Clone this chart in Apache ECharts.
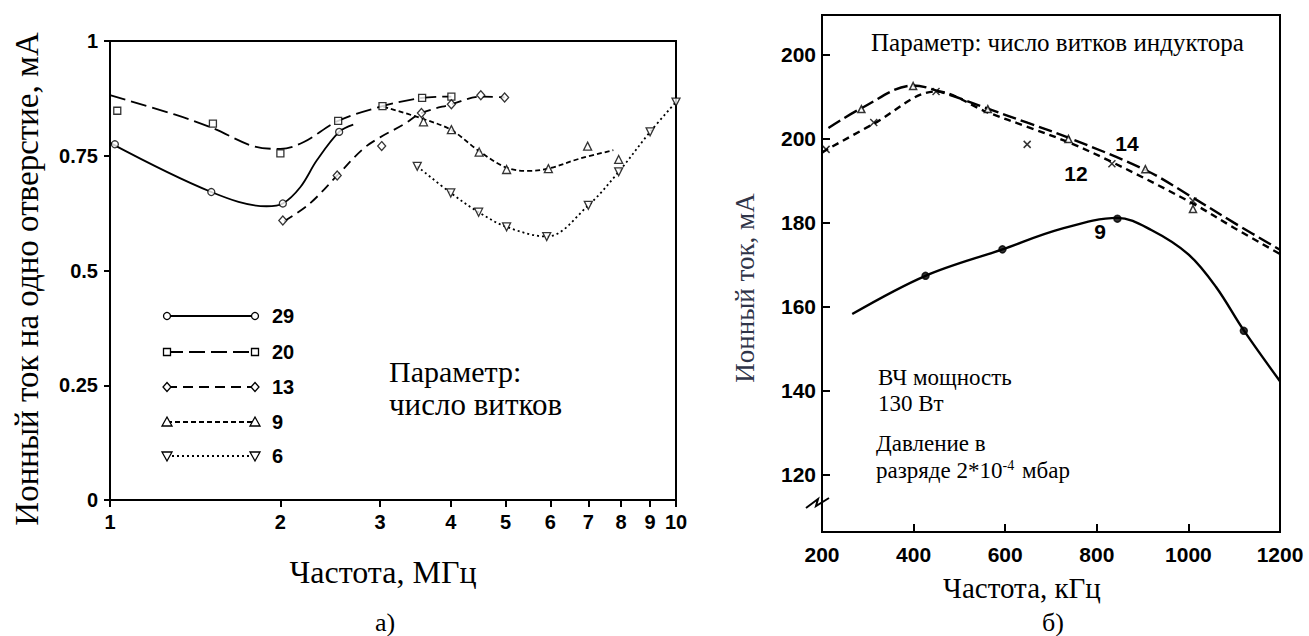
<!DOCTYPE html>
<html><head><meta charset="utf-8">
<script src="https://cdn.jsdelivr.net/npm/echarts@6/dist/echarts.min.js"></script>
<style>html,body{margin:0;padding:0;background:#fff}#c{width:1309px;height:636px}</style>
</head><body><div id="c"></div>
<script>
// ---------- Panel а) : ion current per hole vs frequency (MHz, log) ----------
const aXTicks = [1, 2, 3, 4, 5, 6, 7, 8, 9, 10];
const aYTickLabels = ['0', '0.25', '0.5', '0.75', '1'];
const aNames = ['29', '20', '13', '9', '6'];
const a29Pts = [[1.02, 0.775], [1.51, 0.671], [2.02, 0.646], [2.54, 0.802]];
const a29Curve = [[1.0, 0.778], [1.51, 0.671], [1.89, 0.640], [2.02, 0.646], [2.17, 0.682], [2.32, 0.740], [2.54, 0.802], [2.69, 0.818]];
const a20Pts = [[1.03, 0.848], [1.52, 0.820], [2.0, 0.755], [2.53, 0.826], [3.03, 0.858], [3.56, 0.876], [4.01, 0.879]];
const a20Curve = [[1.0, 0.882], [1.3, 0.840], [1.52, 0.810], [1.79, 0.771], [2.0, 0.765], [2.2, 0.780], [2.53, 0.826], [3.03, 0.858], [3.56, 0.876], [4.01, 0.879]];
const a13Pts = [[2.02, 0.609], [2.52, 0.707], [3.02, 0.771], [3.55, 0.843], [4.01, 0.862], [4.52, 0.882], [4.98, 0.877]];
const a13Curve = [[2.03, 0.607], [2.25, 0.645], [2.52, 0.707], [2.8, 0.765], [3.0, 0.790], [3.3, 0.818], [3.55, 0.843], [4.01, 0.862], [4.52, 0.879], [4.98, 0.877]];
const a9Pts = [[3.58, 0.824], [4.01, 0.807], [4.49, 0.758], [5.02, 0.720], [5.95, 0.722], [6.98, 0.771], [7.92, 0.742]];
const a9Curve = [[3.04, 0.857], [3.58, 0.830], [4.01, 0.806], [4.49, 0.760], [5.02, 0.724], [5.5, 0.717], [5.95, 0.722], [6.77, 0.744], [7.75, 0.762]];
const a6Pts = [[3.49, 0.727], [4.0, 0.669], [4.48, 0.627], [5.02, 0.595], [5.91, 0.574], [7.0, 0.642], [7.92, 0.715], [9.0, 0.802], [10.0, 0.867]];
const a6Curve = [[3.49, 0.727], [4.0, 0.669], [4.48, 0.627], [5.02, 0.595], [5.91, 0.574], [7.0, 0.642], [7.92, 0.715], [9.0, 0.802], [10.0, 0.867]];

// ---------- Panel б) : ion current vs frequency (kHz) ----------
const bYTickValues = [120, 140, 160, 180, 200, 220];
const bYTickLabels = ['120', '140', '160', '180', '200', '200'];
const bNames = ['14', '12', '9'];
const b14Pts = [[286, 207.1], [399, 212.6], [562, 207.1], [738, 200.0], [906, 192.8], [1010, 183.3]];
const b14Curve = [[214, 202.6], [286, 207.3], [399, 212.7], [470, 210.8], [562, 207.2], [650, 203.8], [738, 200.3], [906, 192.6], [1010, 186.0], [1100, 180.0], [1200, 173.6]];
const b12Pts = [[209, 197.5], [313, 203.9], [449, 211.3], [648, 198.7], [833, 194.1], [1010, 185.2]];
const b12Curve = [[200, 196.8], [313, 203.6], [449, 211.3], [560, 206.4], [650, 202.8], [738, 199.2], [833, 194.5], [1010, 184.6], [1100, 178.8], [1200, 172.6]];
const b9Pts = [[426, 167.4], [594, 173.7], [845, 181.0], [1121, 154.3]];
const b9Curve = [[266, 158.3], [426, 167.4], [594, 173.7], [720, 178.5], [845, 181.2], [919, 178.3], [1000, 172.5], [1060, 164.8], [1121, 154.4], [1200, 142.3]];

const SERIF = '"Liberation Serif", "DejaVu Serif", serif';
const SANS = '"Liberation Sans", Arial, sans-serif';
const XPATH = 'path://M0,0L10,10M10,0L0,10';

const aStyles = [
  { name: aNames[0], pts: a29Pts, curve: a29Curve, dash: 'solid', symbol: 'circle', size: 7 },
  { name: aNames[1], pts: a20Pts, curve: a20Curve, dash: [16, 6], symbol: 'rect', size: 7 },
  { name: aNames[2], pts: a13Pts, curve: a13Curve, dash: [10, 6], symbol: 'diamond', size: [8, 9] },
  { name: aNames[3], pts: a9Pts, curve: a9Curve, dash: [5, 3], symbol: 'triangle', size: 8 },
  { name: aNames[4], pts: a6Pts, curve: a6Curve, dash: [2, 3], symbol: 'path://M0,0L10,0L5,9Z', size: 8 }
];
const bStyles = [
  { name: bNames[0], pts: b14Pts, curve: b14Curve, dash: [14, 5], symbol: 'triangle', size: 7, fill: '#fff' },
  { name: bNames[1], pts: b12Pts, curve: b12Curve, dash: [7, 5], symbol: XPATH, size: 7, fill: 'none' },
  { name: bNames[2], pts: b9Pts, curve: b9Curve, dash: 'solid', symbol: 'circle', size: 7, fill: '#000' }
];

const series = [];
aStyles.forEach(s => {
  series.push({ type: 'line', name: s.name, xAxisIndex: 0, yAxisIndex: 0, data: s.curve, smooth: 0.35,
    symbol: 'none', silent: true, z: 2, lineStyle: { color: '#000', width: 1.8, type: s.dash } });
  series.push({ type: 'scatter', name: s.name + ' pts', xAxisIndex: 0, yAxisIndex: 0, data: s.pts,
    symbol: s.symbol, symbolSize: s.size, z: 3,
    itemStyle: { color: '#fff', borderColor: '#000', borderWidth: 1.3 } });
});
bStyles.forEach(s => {
  series.push({ type: 'line', name: s.name, xAxisIndex: 1, yAxisIndex: 1, data: s.curve, smooth: 0.35,
    symbol: 'none', silent: true, z: 2, lineStyle: { color: '#000', width: 2.4, type: s.dash } });
  series.push({ type: 'scatter', name: s.name + ' pts', xAxisIndex: 1, yAxisIndex: 1, data: s.pts,
    symbol: s.symbol, symbolSize: s.size, z: 3,
    itemStyle: { color: s.fill, borderColor: '#000', borderWidth: 1.5 } });
});

// legend of panel а) drawn as graphics (line with markers at both ends)
const legY = [316, 352, 387, 422, 456];
const legX0 = 167, legX1 = 255;
function markerShape(kind, cx, cy) {
  const st = { fill: '#fff', stroke: '#000', lineWidth: 1.3 };
  if (kind === 0) return { type: 'circle', shape: { cx, cy, r: 3.5 }, style: st, z: 10 };
  if (kind === 1) return { type: 'rect', shape: { x: cx - 3.5, y: cy - 3.5, width: 7, height: 7 }, style: st, z: 10 };
  if (kind === 2) return { type: 'polygon', shape: { points: [[cx, cy - 4.5], [cx + 4, cy], [cx, cy + 4.5], [cx - 4, cy]] }, style: st, z: 10 };
  if (kind === 3) return { type: 'polygon', shape: { points: [[cx, cy - 5], [cx + 5, cy + 4], [cx - 5, cy + 4]] }, style: st, z: 10 };
  return { type: 'polygon', shape: { points: [[cx - 5, cy - 4], [cx + 5, cy - 4], [cx, cy + 5]] }, style: st, z: 10 };
}
const graphics = [];
aStyles.forEach((s, i) => {
  const y = legY[i];
  graphics.push({ type: 'line', shape: { x1: legX0, y1: y, x2: legX1, y2: y }, z: 9,
    style: { stroke: '#000', lineWidth: 1.8, lineDash: s.dash === 'solid' ? null : s.dash } });
  graphics.push(markerShape(i, legX0, y));
  graphics.push(markerShape(i, legX1, y));
  graphics.push({ type: 'text', x: 272, y: y, z: 10,
    style: { text: s.name, font: 'bold 20px ' + SANS, fill: '#000', textAlign: 'left', verticalAlign: 'middle' } });
});
function txt(t, x, y, font, align, extra) {
  return Object.assign({ type: 'text', x, y, z: 10,
    style: { text: t, font, fill: '#000', textAlign: align || 'left', verticalAlign: 'middle' } }, extra || {});
}
// panel а) texts
graphics.push(txt('Параметр:', 389, 371, '30px ' + SERIF));
graphics.push(txt('число витков', 389, 404, '31px ' + SERIF));
graphics.push(txt('Частота, МГц', 383, 572, '32px ' + SERIF, 'center'));
graphics.push(txt('а)', 385, 622, '26px ' + SERIF, 'center'));
graphics.push(txt('Ионный ток на одно отверстие, мА', 27, 279, '33px ' + SERIF, 'center', { rotation: Math.PI / 2 }));
// panel б) texts
graphics.push(txt('Параметр: число витков индуктора', 871, 42, '25px ' + SERIF));
graphics.push(txt('ВЧ мощность', 878, 377, '23px ' + SERIF));
graphics.push(txt('130 Вт', 878, 403, '23px ' + SERIF));
graphics.push(txt('Давление в', 876, 443, '23px ' + SERIF));
graphics.push({ type: 'text', x: 876, y: 470, z: 10,
  style: { text: 'разряде 2*10{sup|-4} мбар', font: '23px ' + SERIF, fill: '#000', textAlign: 'left', verticalAlign: 'middle',
    rich: { sup: { fontSize: 14, fontFamily: SERIF, verticalAlign: 'top', padding: [0, 2, 8, 0] } } } });
graphics.push(txt('Частота, кГц', 1022, 588, '29px ' + SERIF, 'center'));
graphics.push(txt('б)', 1053, 622, '26px ' + SERIF, 'center'));
graphics.push({ type: 'text', x: 745, y: 288, z: 10, rotation: Math.PI / 2,
  style: { text: 'Ионный ток, мА', font: '27px ' + SERIF, fill: '#2f3448', textAlign: 'center', verticalAlign: 'middle' } });
graphics.push(txt(bNames[0], 1127, 143, 'bold 21px ' + SANS, 'center'));
graphics.push(txt(bNames[1], 1076, 173, 'bold 21px ' + SANS, 'center'));
graphics.push(txt(bNames[2], 1100, 231, 'bold 21px ' + SANS, 'center'));
// axis break mark on panel б)
graphics.push({ type: 'polyline', z: 10, shape: { points: [[806, 508], [818, 499], [816, 506], [829, 498]] },
  style: { stroke: '#000', lineWidth: 2, fill: null } });

const chart = echarts.init(document.getElementById('c'), null, { renderer: 'svg' });
chart.setOption({
  animation: false,
  backgroundColor: '#fff',
  grid: [
    { left: 110, top: 41, width: 566, height: 459, show: true, borderColor: '#000', borderWidth: 2, backgroundColor: 'transparent' },
    { left: 822, top: 15, width: 458, height: 517, show: true, borderColor: '#000', borderWidth: 2, backgroundColor: 'transparent' }
  ],
  xAxis: [
    { type: 'log', logBase: 10, gridIndex: 0, min: 1, max: 10,
      axisLine: { lineStyle: { color: '#000', width: 2 } },
      axisTick: { show: true, length: 7, inside: false, lineStyle: { color: '#000', width: 2 }, customValues: aXTicks },
      axisLabel: { customValues: aXTicks, margin: 12, color: '#000', fontFamily: SANS, fontWeight: 'bold', fontSize: 20 },
      minorTick: { show: false }, splitLine: { show: false } },
    { type: 'value', gridIndex: 1, min: 200, max: 1200, interval: 200,
      axisLine: { lineStyle: { color: '#000', width: 2 } },
      axisTick: { show: true, inside: true, length: 8, lineStyle: { color: '#000', width: 2 } },
      axisLabel: { margin: 12, color: '#000', fontFamily: SANS, fontWeight: 'bold', fontSize: 21,
        formatter: (v) => String(v) },
      splitLine: { show: false } }
  ],
  yAxis: [
    { type: 'value', gridIndex: 0, min: 0, max: 1, interval: 0.25,
      axisLine: { lineStyle: { color: '#000', width: 2 } },
      axisTick: { show: true, length: 6, lineStyle: { color: '#000', width: 2 } },
      axisLabel: { margin: 12, color: '#000', fontFamily: SANS, fontWeight: 'bold', fontSize: 20,
        formatter: (v) => aYTickLabels[Math.round(v / 0.25)] },
      splitLine: { show: false } },
    { type: 'value', gridIndex: 1, min: 106.4, max: 229.5,
      axisLine: { lineStyle: { color: '#000', width: 2 } },
      axisTick: { show: true, inside: true, length: 8, lineStyle: { color: '#000', width: 2 }, customValues: bYTickValues },
      axisLabel: { customValues: bYTickValues, margin: 6, color: '#000', fontFamily: SANS, fontWeight: 'bold', fontSize: 21,
        formatter: (v) => bYTickLabels[bYTickValues.indexOf(Math.round(v))] },
      splitLine: { show: false } }
  ],
  graphic: graphics,
  series: series
});
</script>
</body></html>
